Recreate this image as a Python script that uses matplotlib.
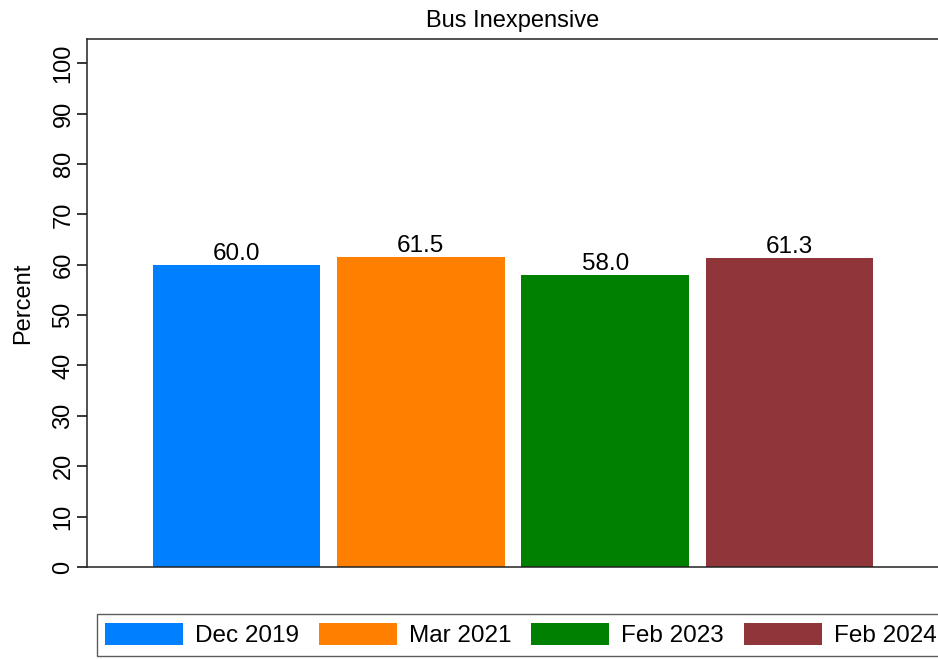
import matplotlib

matplotlib.use("Agg")
import matplotlib.pyplot as plt
from matplotlib.patches import Patch

plt.rcParams["font.family"] = ["Liberation Sans", "DejaVu Sans"]

TITLE = "Bus Inexpensive"
PERIODS = ["Dec 2019", "Mar 2021", "Feb 2023", "Feb 2024"]
VALUES = [60.0, 61.5, 58.0, 61.3]
COLORS = ["#0080FF", "#FF8000", "#008000", "#903539"]
Y_TICKS = [0, 10, 20, 30, 40, 50, 60, 70, 80, 90, 100]


def main() -> None:
    fig = plt.figure(figsize=(9.38, 6.59), dpi=100)
    ax = fig.add_axes([87 / 938, 1 - 567 / 659, 852 / 938, 528 / 659])

    positions = list(range(len(VALUES)))
    bars = ax.bar(positions, VALUES, width=0.908, color=COLORS, zorder=2)
    for bar, value in zip(bars, VALUES):
        ax.text(
            bar.get_x() + bar.get_width() / 2,
            value,
            f"{value:.1f}",
            ha="center",
            va="bottom",
            fontsize=17.5,
        )

    ax.set_xlim(-0.811, 3.811)
    ax.set_ylim(0, 104.8)
    ax.set_xticks([])
    ax.set_yticks(Y_TICKS)
    ax.set_yticklabels([str(t) for t in Y_TICKS], rotation=90, va="center", fontsize=17)
    ax.tick_params(axis="y", length=7, width=1.1, pad=2)
    ax.set_ylabel("Percent", fontsize=17, labelpad=13)
    ax.set_title(TITLE, fontsize=17, pad=9)
    ax.spines["right"].set_visible(False)
    for side in ("left", "top", "bottom"):
        ax.spines[side].set_linewidth(1.1)
        ax.spines[side].set_color("#222222")

    # legend sits below the plot, left aligned, running up to the right edge
    handles = [Patch(facecolor=c, edgecolor="none") for c in COLORS]
    leg = fig.legend(
        handles,
        PERIODS,
        loc="center left",
        bbox_to_anchor=(96.5 / 938, 1 - 635 / 659),
        ncol=4,
        frameon=True,
        fancybox=False,
        fontsize=17.5,
        handlelength=3.2,
        handleheight=1.05,
        columnspacing=0.82,
        handletextpad=0.5,
        borderpad=0.35,
        borderaxespad=0,
    )
    leg.get_frame().set_edgecolor("#333333")
    leg.get_frame().set_linewidth(1.0)

    fig.savefig("out.png", dpi=100)
    plt.close(fig)


if __name__ == "__main__":
    main()
